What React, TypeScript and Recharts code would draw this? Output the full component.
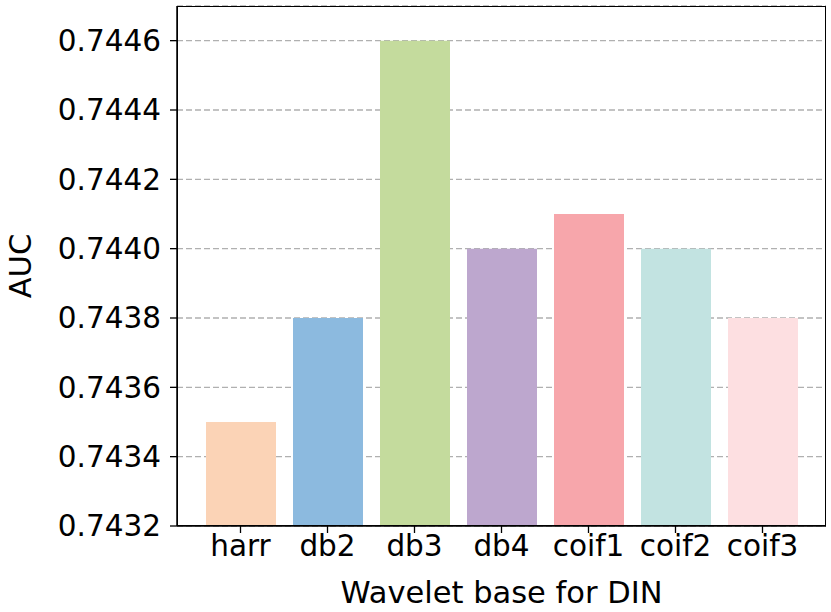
import { BarChart, Bar, XAxis, YAxis, CartesianGrid, Cell } from 'recharts'

const bases = ['harr', 'db2', 'db3', 'db4', 'coif1', 'coif2', 'coif3']
const aucValues = [0.7435, 0.7438, 0.7446, 0.744, 0.7441, 0.744, 0.7438]
const barColors = ['#FBD3B6', '#8CBADF', '#C4DB9D', '#BDA7CE', '#F7A6AB', '#C2E3E1', '#FDDFE1']
const yTicks = [0.7432, 0.7434, 0.7436, 0.7438, 0.744, 0.7442, 0.7444, 0.7446]

const font = 'DejaVu Sans'

export default function App() {
  const data = bases.map((b, i) => ({ base: b, auc: aucValues[i] }))

  return (
    <div style={{ position: 'absolute', left: 0, top: 0, width: 831, height: 612, background: '#fff' }}>
      <BarChart width={831} height={612} data={data} margin={{ top: 6, right: 5, left: 0, bottom: 0 }}
        style={{ fontFamily: font }}>
        <CartesianGrid vertical={false} stroke="#b0b0b0" strokeWidth={1.3} strokeDasharray="6 3" />
        <XAxis dataKey="base" height={86} padding={{ left: 20, right: 20 }}
          tick={{ fontSize: 29.5, fill: '#000', fontFamily: font }} tickSize={7} tickMargin={2}
          axisLine={{ stroke: '#000', strokeWidth: 1.5 }} tickLine={{ stroke: '#000', strokeWidth: 1.3 }}
          label={{ value: 'Wavelet base for DIN', position: 'insideBottom', offset: 9, fontSize: 30.5, fill: '#000', fontFamily: font }} />
        <YAxis width={177} domain={[0.7432, 0.7447]} ticks={yTicks} allowDataOverflow
          tickFormatter={(v: number) => v.toFixed(4)}
          tick={{ fontSize: 29.5, fill: '#000', fontFamily: font }} tickSize={7} tickMargin={9}
          axisLine={{ stroke: '#000', strokeWidth: 1.5 }} tickLine={{ stroke: '#000', strokeWidth: 1.3 }}
          label={{ value: 'AUC', angle: -90, position: 'insideLeft', offset: 20, fontSize: 30.5, fill: '#000', fontFamily: font, style: { textAnchor: 'middle' } }} />
        <Bar dataKey="auc" barSize={70} isAnimationActive={false}>
          {data.map((d, i) => (
            <Cell key={d.base} fill={barColors[i]} />
          ))}
        </Bar>
      </BarChart>
      {/* plot frame (matplotlib-style box) */}
      <div style={{ position: 'absolute', left: 177, top: 6, width: 649, height: 520, border: '1.5px solid #000', boxSizing: 'border-box', pointerEvents: 'none' }} />
    </div>
  )
}
